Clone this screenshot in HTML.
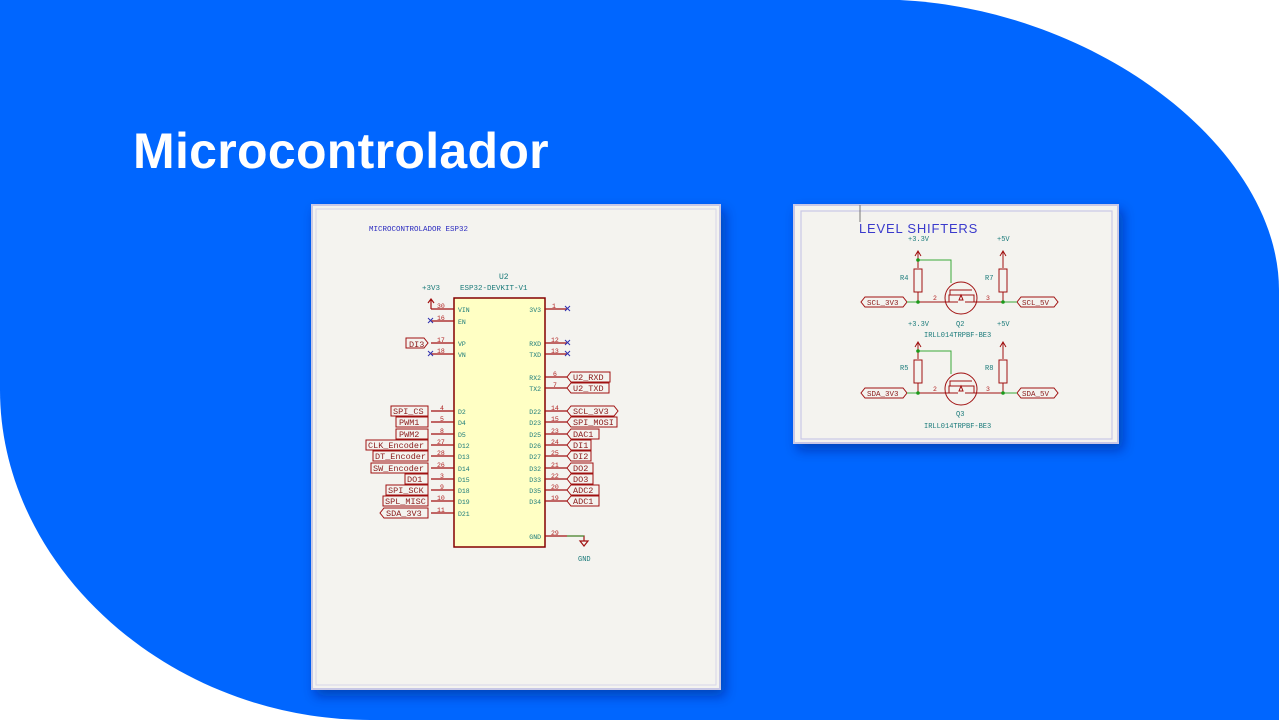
<!DOCTYPE html>
<html><head><meta charset="utf-8"><style>
html,body{margin:0;padding:0;width:1279px;height:720px;overflow:hidden;background:#fff}
svg{position:absolute;left:0;top:0}
.t{font-family:"Liberation Sans",sans-serif}
.lb{font-family:"Liberation Mono",monospace;font-size:8.5px;fill:#8a1a1a}
.pn{font-family:"Liberation Mono",monospace;font-size:6.5px;fill:#1a7a7a}
.nu{font-family:"Liberation Mono",monospace;font-size:6.5px;fill:#b02020}
</style></head><body>
<svg width="1279" height="720" viewBox="0 0 1279 720">
<defs>
<filter id="sh" x="-10%" y="-10%" width="130%" height="130%"><feDropShadow dx="4" dy="6" stdDeviation="6" flood-color="#001a66" flood-opacity="0.45"/></filter>
</defs>
<path d="M0,0 L900,0 C1100,10 1279,150 1279,290 L1279,720 L370,720 C170,720 0,568 0,390 Z" fill="#0066ff"/>
<text x="133" y="168" class="t" font-size="50" font-weight="bold" fill="#fff" letter-spacing="0.3">Microcontrolador</text>

<!-- left panel -->
<rect x="312" y="205" width="408" height="484" fill="#f4f3ef" stroke="#c8c8e6" stroke-width="2" filter="url(#sh)"/>
<rect x="316" y="209" width="400" height="476" fill="none" stroke="#d6d6ea" stroke-width="1"/>
<text x="369" y="231" class="pn" style="fill:#2a2abf;font-size:7.5px">MICROCONTROLADOR ESP32</text>
<text x="499" y="279" class="pn" style="font-size:8px">U2</text>
<text x="460" y="290" class="pn" style="font-size:7.5px">ESP32-DEVKIT-V1</text>
<text x="422" y="290" class="pn" style="font-size:7.5px">+3V3</text>
<rect x="454" y="298" width="91" height="249" fill="#ffffc4" stroke="#840000" stroke-width="1.5"/>
<g stroke="#a01010" stroke-width="1.2" fill="none">
<path d="M431,309H454M431,321H454M431,343H454M431,354H454M431,411H454M431,422H454M431,434H454M431,445H454M431,456H454M431,468H454M431,479H454M431,490H454M431,501H454M431,513H454"/>
<path d="M545,309H567M545,343H567M545,354H567M545,377H567M545,388H567M545,411H567M545,422H567M545,434H567M545,445H567M545,456H567M545,468H567M545,479H567M545,490H567M545,501H567M545,536H567"/>
<path d="M431,309V300M428,303L431,299L434,303"/>
<path d="M567,536H584V541M580,541H588L584,546Z"/>
</g>
<path d="M567,536H584" stroke="#2a9a2a" stroke-width="1"/>
<g stroke="#3030b0" stroke-width="1"><path d="M428,318l5,5M433,318l-5,5M428,351l5,5M433,351l-5,5M565,306l5,5M570,306l-5,5M565,340l5,5M570,340l-5,5M565,351l5,5M570,351l-5,5"/></g>
<text x="578" y="561" class="pn" style="font-size:7px">GND</text>
<g class="pn">
<text x="458" y="312">VIN</text><text x="458" y="324">EN</text><text x="458" y="346">VP</text><text x="458" y="357">VN</text>
<text x="458" y="414">D2</text><text x="458" y="425">D4</text><text x="458" y="437">D5</text><text x="458" y="448">D12</text><text x="458" y="459">D13</text><text x="458" y="471">D14</text><text x="458" y="482">D15</text><text x="458" y="493">D18</text><text x="458" y="504">D19</text><text x="458" y="516">D21</text>
<g text-anchor="end"><text x="541" y="312">3V3</text><text x="541" y="346">RXD</text><text x="541" y="357">TXD</text><text x="541" y="380">RX2</text><text x="541" y="391">TX2</text><text x="541" y="414">D22</text><text x="541" y="425">D23</text><text x="541" y="437">D25</text><text x="541" y="448">D26</text><text x="541" y="459">D27</text><text x="541" y="471">D32</text><text x="541" y="482">D33</text><text x="541" y="493">D35</text><text x="541" y="504">D34</text><text x="541" y="539">GND</text></g>
</g>
<g class="nu">
<text x="437" y="308">30</text><text x="437" y="320">16</text><text x="437" y="342">17</text><text x="437" y="353">18</text><text x="440" y="410">4</text><text x="440" y="421">5</text><text x="440" y="433">8</text><text x="437" y="444">27</text><text x="437" y="455">28</text><text x="437" y="467">26</text><text x="440" y="478">3</text><text x="440" y="489">9</text><text x="437" y="500">10</text><text x="437" y="512">11</text>
<text x="552" y="308">1</text><text x="551" y="342">12</text><text x="551" y="353">13</text><text x="553" y="376">6</text><text x="553" y="387">7</text><text x="551" y="410">14</text><text x="551" y="421">15</text><text x="551" y="433">23</text><text x="551" y="444">24</text><text x="551" y="455">25</text><text x="551" y="467">21</text><text x="551" y="478">22</text><text x="551" y="489">20</text><text x="551" y="500">19</text><text x="551" y="535">29</text>
</g>
<g fill="none" stroke="#a01010" stroke-width="1">
<path d="M406,338H424L428,343L424,348H406Z"/>
<path d="M391,406H428V416H391Z"/><path d="M396,417H428V427H396Z"/><path d="M396,429H428V439H396Z"/><path d="M366,440H428V450H366Z"/><path d="M373,451H428V461H373Z"/><path d="M371,463H428V473H371Z"/><path d="M405,474H428V484H405Z"/><path d="M386,485H428V495H386Z"/><path d="M383,496H428V506H383Z"/><path d="M384,508H428V518H384L380,513Z"/>
<path d="M571,372H610V382H571L567,377Z"/><path d="M571,383H609V393H571L567,388Z"/><path d="M571,406H614L618,411L614,416H571L567,411Z"/><path d="M571,417H617V427H571L567,422Z"/><path d="M571,429H599V439H571L567,434Z"/><path d="M571,440H591V450H571L567,445Z"/><path d="M571,451H591V461H571L567,456Z"/><path d="M571,463H593V473H571L567,468Z"/><path d="M571,474H593V484H571L567,479Z"/><path d="M571,485H599V495H571L567,490Z"/><path d="M571,496H599V506H571L567,501Z"/>
</g>
<g class="lb">
<text x="409" y="347">DI3</text>
<text x="393" y="414">SPI_CS</text><text x="399" y="425">PWM1</text><text x="399" y="437">PWM2</text><text x="368" y="448">CLK_Encoder</text><text x="375" y="459">DT_Encoder</text><text x="373" y="471">SW_Encoder</text><text x="407" y="482">DO1</text><text x="388" y="493">SPI_SCK</text><text x="385" y="504">SPL_MISC</text><text x="386" y="516">SDA_3V3</text>
<text x="573" y="380">U2_RXD</text><text x="573" y="391">U2_TXD</text><text x="573" y="414">SCL_3V3</text><text x="573" y="425">SPI_MOSI</text><text x="573" y="437">DAC1</text><text x="573" y="448">DI1</text><text x="573" y="459">DI2</text><text x="573" y="471">DO2</text><text x="573" y="482">DO3</text><text x="573" y="493">ADC2</text><text x="573" y="504">ADC1</text>
</g>

<!-- right panel -->
<rect x="794" y="205" width="324" height="238" fill="#f4f3ef" stroke="#c8c8e6" stroke-width="2" filter="url(#sh)"/>
<rect x="801" y="211" width="311" height="228" fill="none" stroke="#c8c8e6" stroke-width="1.2"/>
<path d="M860,205V222" stroke="#777" stroke-width="1"/>
<text x="859" y="233" class="t" font-size="13" fill="#3a3acc" letter-spacing="0.8">LEVEL SHIFTERS</text>
<g id="ls">
<g fill="none" stroke="#a01010" stroke-width="1">
<path d="M918,268V252M915,256L918,251L921,256"/><path d="M1003,268V252M1000,256L1003,251L1006,256"/>
<rect x="914" y="269" width="8" height="23"/><rect x="999" y="269" width="8" height="23"/>
<path d="M918,292V302M1003,292V302"/>
<path d="M918,302H958M965,302H1003"/>
<circle cx="961" cy="298" r="16"/>
<path d="M949,302V295H974V302M950,295V290H972M961,295L959,300H963Z"/>
<path d="M865,297H903L907,302L903,307H865L861,302Z"/><path d="M1021,297H1054L1058,302L1054,307H1021L1017,302Z"/>
</g>
<path d="M918,260H951V283M907,302H918M1003,302H1017" stroke="#3aa83a" stroke-width="1" fill="none"/>
<circle cx="918" cy="260" r="1.8" fill="#1a9a1a"/><circle cx="918" cy="302" r="1.8" fill="#1a9a1a"/><circle cx="1003" cy="302" r="1.8" fill="#1a9a1a"/>
</g>
<use href="#ls" transform="translate(0,91)"/>
<g class="pn" style="font-size:7px">
<text x="908" y="241">+3.3V</text><text x="997" y="241">+5V</text>
<text x="900" y="280">R4</text><text x="985" y="280">R7</text>
<text x="908" y="326">+3.3V</text><text x="997" y="326">+5V</text>
<text x="956" y="326">Q2</text><text x="924" y="337">IRLL014TRPBF-BE3</text>
<text x="900" y="370">R5</text><text x="985" y="370">R8</text>
<text x="956" y="416">Q3</text><text x="924" y="428">IRLL014TRPBF-BE3</text>
</g>
<g class="nu"><text x="933" y="300">2</text><text x="986" y="300">3</text><text x="933" y="391">2</text><text x="986" y="391">3</text></g>
<g class="lb" style="font-size:7.5px"><text x="867" y="305">SCL_3V3</text><text x="1022" y="305">SCL_5V</text><text x="867" y="396">SDA_3V3</text><text x="1022" y="396">SDA_5V</text></g>
</svg>
</body></html>
